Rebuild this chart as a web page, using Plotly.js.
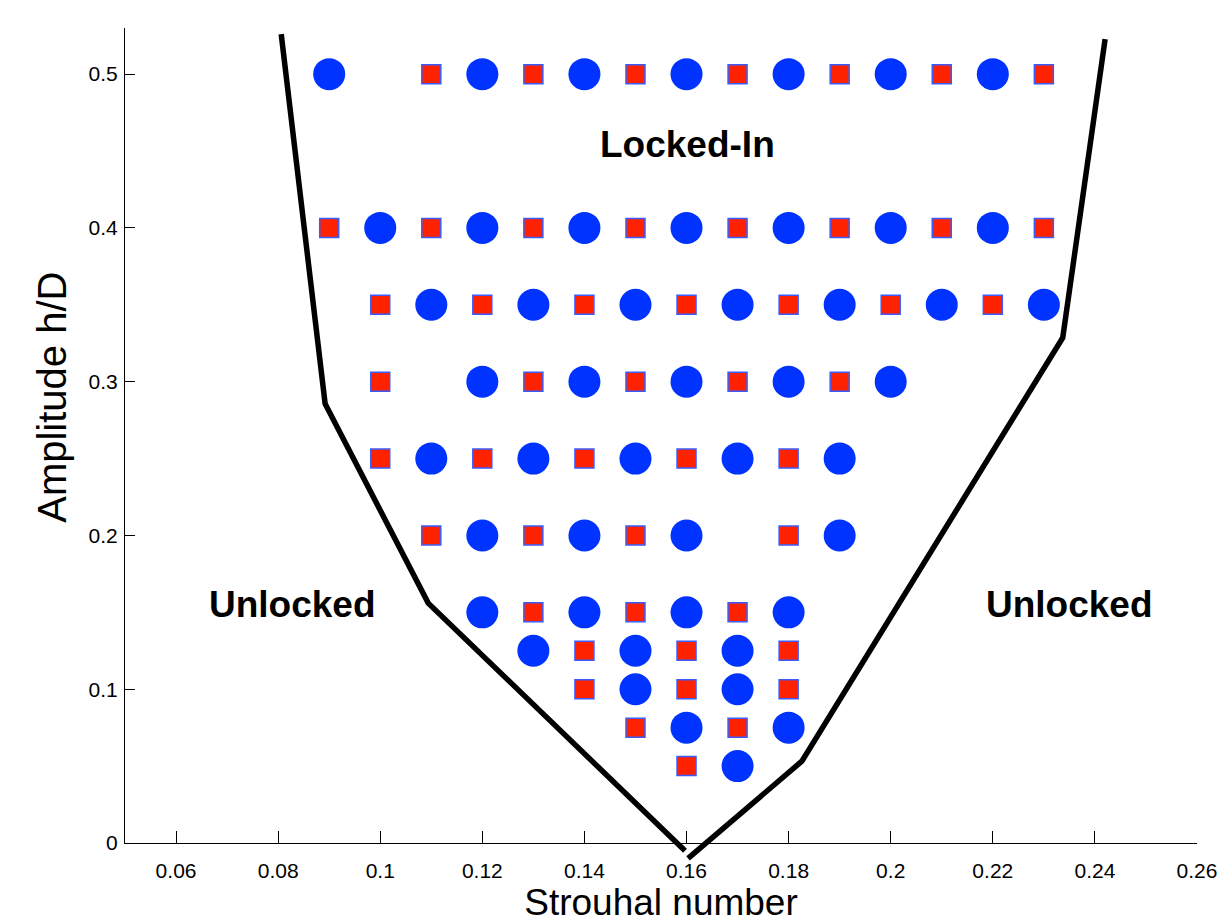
<!DOCTYPE html>
<html>
<head>
<meta charset="utf-8">
<script src="https://cdn.plot.ly/plotly-3.0.1.min.js"></script>
<style>html,body{margin:0;padding:0;background:#fff;}#chart{width:1218px;height:923px;}</style>
</head>
<body>
<div id="chart"></div>
<script>
// Locked-in test points (Strouhal number, amplitude h/D)
const circleX = [0.09,0.12,0.14,0.16,0.18,0.20,0.22,
                 0.10,0.12,0.14,0.16,0.18,0.20,0.22,
                 0.11,0.13,0.15,0.17,0.19,0.21,0.23,
                 0.12,0.14,0.16,0.18,0.20,
                 0.11,0.13,0.15,0.17,0.19,
                 0.12,0.14,0.16,0.19,
                 0.12,0.14,0.16,0.18,
                 0.13,0.15,0.17,
                 0.15,0.17,
                 0.16,0.18,
                 0.17];
const circleY = [0.5,0.5,0.5,0.5,0.5,0.5,0.5,
                 0.4,0.4,0.4,0.4,0.4,0.4,0.4,
                 0.35,0.35,0.35,0.35,0.35,0.35,0.35,
                 0.3,0.3,0.3,0.3,0.3,
                 0.25,0.25,0.25,0.25,0.25,
                 0.2,0.2,0.2,0.2,
                 0.15,0.15,0.15,0.15,
                 0.125,0.125,0.125,
                 0.1,0.1,
                 0.075,0.075,
                 0.05];
const squareX = [0.11,0.13,0.15,0.17,0.19,0.21,0.23,
                 0.09,0.11,0.13,0.15,0.17,0.19,0.21,0.23,
                 0.10,0.12,0.14,0.16,0.18,0.20,0.22,
                 0.10,0.13,0.15,0.17,0.19,
                 0.10,0.12,0.14,0.16,0.18,
                 0.11,0.13,0.15,0.18,
                 0.13,0.15,0.17,
                 0.14,0.16,0.18,
                 0.14,0.16,0.18,
                 0.15,0.17,
                 0.16];
const squareY = [0.5,0.5,0.5,0.5,0.5,0.5,0.5,
                 0.4,0.4,0.4,0.4,0.4,0.4,0.4,0.4,
                 0.35,0.35,0.35,0.35,0.35,0.35,0.35,
                 0.3,0.3,0.3,0.3,0.3,
                 0.25,0.25,0.25,0.25,0.25,
                 0.2,0.2,0.2,0.2,
                 0.15,0.15,0.15,
                 0.125,0.125,0.125,
                 0.1,0.1,0.1,
                 0.075,0.075,
                 0.05];
// Lock-in boundary lines
const leftBoundX = [0.0806,0.0892,0.1094,0.1597];
const leftBoundY = [0.526,0.2857,0.156,-0.005];
const rightBoundX = [0.1603,0.1826,0.2337,0.2420];
const rightBoundY = [-0.010,0.0532,0.3286,0.5227];
// Axes
const xTickVals = [0.06,0.08,0.10,0.12,0.14,0.16,0.18,0.20,0.22,0.24,0.26];
const xTickText = ['0.06','0.08','0.1','0.12','0.14','0.16','0.18','0.2','0.22','0.24','0.26'];
const yTickVals = [0,0.1,0.2,0.3,0.4,0.5];
const yTickText = ['0','0.1','0.2','0.3','0.4','0.5'];
const xRange = [0.05,0.26];
const yRange = [0,0.53];
const xTitle = 'Strouhal number';
const yTitle = 'Amplitude h/D';
const regionLabels = ['Locked-In','Unlocked','Unlocked'];

const W = 1218, H = 923;
const mT = 28, mB = 60, mL = 125, mR = 21;
const below = 20; // px the boundary layer may extend below y=0
const plotH = H - mT - mB;
const yDomainBottom = below / plotH;
const pxPerY = (plotH - below) / (yRange[1] - yRange[0]);
const y2Range = [yRange[0] - below / pxPerY, yRange[1]];

const FONT = 'Liberation Sans, Arial, Helvetica, sans-serif';

const traces = [
  {x: squareX, y: squareY, type: 'scatter', mode: 'markers', xaxis: 'x', yaxis: 'y',
   marker: {symbol: 'square', size: 19, color: '#ff2200', line: {color: '#3a5cff', width: 1.5}},
   hoverinfo: 'x+y', showlegend: false},
  {x: circleX, y: circleY, type: 'scatter', mode: 'markers', xaxis: 'x', yaxis: 'y',
   marker: {symbol: 'circle', size: 32, color: '#0033ff', line: {width: 0}},
   hoverinfo: 'x+y', showlegend: false},
  {x: leftBoundX, y: leftBoundY, type: 'scatter', mode: 'lines', xaxis: 'x2', yaxis: 'y2',
   line: {color: '#000', width: 5.5}, hoverinfo: 'skip', showlegend: false},
  {x: rightBoundX, y: rightBoundY, type: 'scatter', mode: 'lines', xaxis: 'x2', yaxis: 'y2',
   line: {color: '#000', width: 5.5}, hoverinfo: 'skip', showlegend: false}
];

const layout = {
  width: W, height: H,
  margin: {l: mL, r: mR, t: mT, b: mB, pad: 0},
  paper_bgcolor: '#fff', plot_bgcolor: 'rgba(0,0,0,0)',
  showlegend: false,
  font: {family: FONT, color: '#000'},
  xaxis: {
    domain: [0, 1], range: xRange, anchor: 'y',
    showline: true, linecolor: '#000', linewidth: 1, mirror: false,
    showgrid: false, zeroline: false,
    ticks: 'inside', ticklen: 12, tickwidth: 1, tickcolor: '#000',
    tickmode: 'array', tickvals: xTickVals, ticktext: xTickText,
    tickfont: {family: FONT, size: 21, color: '#000'},
    ticklabelstandoff: 9,
    title: {text: xTitle, font: {family: FONT, size: 37, color: '#000'}, standoff: 8}
  },
  yaxis: {
    domain: [yDomainBottom, 1], range: yRange, anchor: 'x',
    showline: true, linecolor: '#000', linewidth: 1, mirror: false,
    showgrid: false, zeroline: false,
    ticks: 'inside', ticklen: 10, tickwidth: 1, tickcolor: '#000',
    tickmode: 'array', tickvals: yTickVals, ticktext: yTickText,
    tickfont: {family: FONT, size: 21, color: '#000'},
    ticklabelstandoff: 2
  },
  xaxis2: {domain: [0, 1], range: xRange, anchor: 'y2', visible: false, overlaying: 'x'},
  yaxis2: {domain: [0, 1], range: y2Range, anchor: 'x2', visible: false},
  annotations: [
    {x: -0.068, y: 0.2896, xref: 'paper', yref: 'y', text: yTitle, textangle: -90,
     showarrow: false, xanchor: 'center', yanchor: 'middle',
     font: {family: FONT, size: 40, color: '#000'}},
    {x: 0.1601, y: 0.4545, xref: 'x', yref: 'y', text: regionLabels[0], showarrow: false,
     font: {family: FONT, size: 37, weight: 'bold', color: '#000'}},
    {x: 0.0829, y: 0.155, xref: 'x', yref: 'y', text: regionLabels[1], showarrow: false,
     font: {family: FONT, size: 37, weight: 'bold', color: '#000'}},
    {x: 0.2351, y: 0.155, xref: 'x', yref: 'y', text: regionLabels[2], showarrow: false,
     font: {family: FONT, size: 37, weight: 'bold', color: '#000'}}
  ]
};

Plotly.newPlot('chart', traces, layout, {displayModeBar: false, staticPlot: true});
</script>
</body>
</html>
